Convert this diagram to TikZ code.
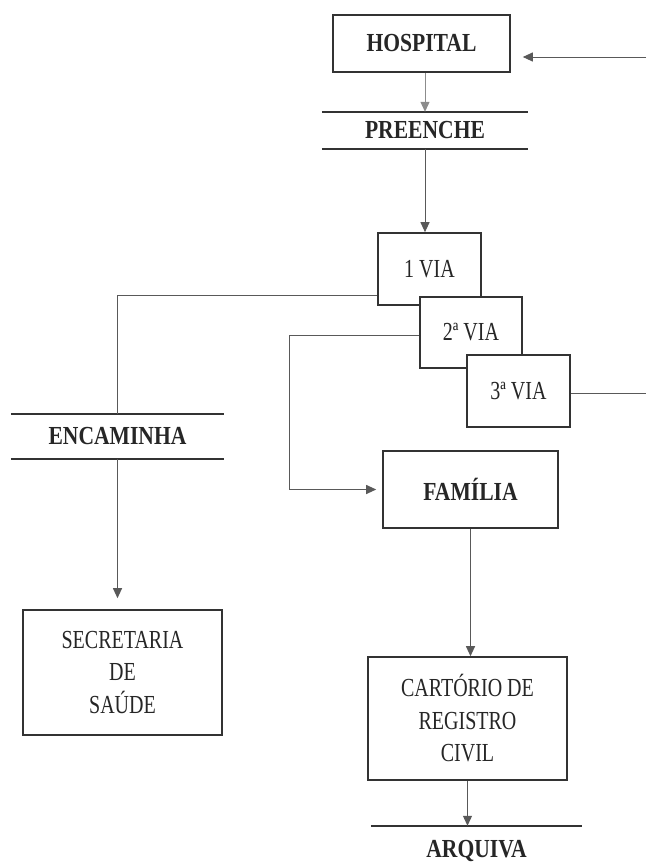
\documentclass[tikz,border=0pt]{standalone}
\usepackage{fontspec}
\usetikzlibrary{arrows.meta}
\newfontfamily\flowfont[FakeStretch=0.77,BoldFeatures={FakeStretch=0.83}]{Liberation Serif}
\begin{document}
\begin{tikzpicture}[x=1pt,y=-1pt,
  txt/.style={font=\flowfont\fontsize{26}{32.5}\selectfont, text=black!85, align=center, inner sep=0pt},
  bold/.style={txt, font=\flowfont\bfseries\fontsize{26}{32.5}\selectfont},
  box/.style={draw=black!80, line width=1.6pt, fill=white, minimum width=#1},
  link/.style={draw=black!65, line width=1pt},
  arr/.style={link, -{Triangle[length=10pt,width=9pt]}},
  rule/.style={draw=black!80, line width=1.6pt}]
\useasboundingbox (0,0) rectangle (646,868);

% boxes
\node[box=177pt, minimum height=57pt, bold] (hospital) at (421.5,43.5) {HOSPITAL};
\node[minimum width=206pt, minimum height=37pt, bold] (preenche) at (425,130.5) {PREENCHE};
\node[box=103pt, minimum height=72pt, txt] (via1) at (429.5,269) {1 VIA};
\node[box=102pt, minimum height=71pt, txt] (via2) at (471,332.5) {2ª VIA};
\node[box=103pt, minimum height=72pt, txt] (via3) at (518.5,391) {3ª VIA};
\node[minimum width=213pt, minimum height=45pt, bold] (encaminha) at (117.5,436.5) {ENCAMINHA};
\node[box=199pt, minimum height=125pt, txt] (secretaria) at (122.5,672.5) {SECRETARIA\\DE\\SAÚDE};
\node[box=175pt, minimum height=77pt, bold] (familia) at (470.5,489.5) {FAMÍLIA};
\node[box=199pt, minimum height=123pt, txt] (cartorio) at (467.5,718.5) {CARTÓRIO DE\\REGISTRO\\CIVIL};
\node[minimum width=211pt, minimum height=50pt, bold] (arquiva) at (476.5,851) {ARQUIVA};

% rules above and below the action labels
\draw[rule] (preenche.north west) -- (preenche.north east);
\draw[rule] (preenche.south west) -- (preenche.south east);
\draw[rule] (encaminha.north west) -- (encaminha.north east);
\draw[rule] (encaminha.south west) -- (encaminha.south east);
\draw[rule] (arquiva.north west) -- (arquiva.north east);

% free ends at the right margin
\coordinate (inR) at (646,57);
\coordinate (outR) at (646,393);

% connectors
\draw[arr, shorten >=12pt] (inR) -- (inR -| hospital.east);
\draw[arr, draw=black!45] (preenche.north |- hospital.south) -- (preenche.north);
\draw[arr] (preenche.south) -- (preenche.south |- via1.north);
\draw[link] ([yshift=-26pt]via1.west) -| (encaminha.north);
\draw[arr, shorten >=11pt] (encaminha.south) -- (encaminha.south |- secretaria.north);
\draw[arr, shorten >=6pt] ([yshift=-2.5pt]via2.west) -- ++(-130,0) |- (familia.west);
\draw[link] (outR -| via3.east) -- (outR);
\draw[arr] (familia.south) -- (familia.south |- cartorio.north);
\draw[arr] (cartorio.south) -- (cartorio.south |- arquiva.north);
\end{tikzpicture}
\end{document}
